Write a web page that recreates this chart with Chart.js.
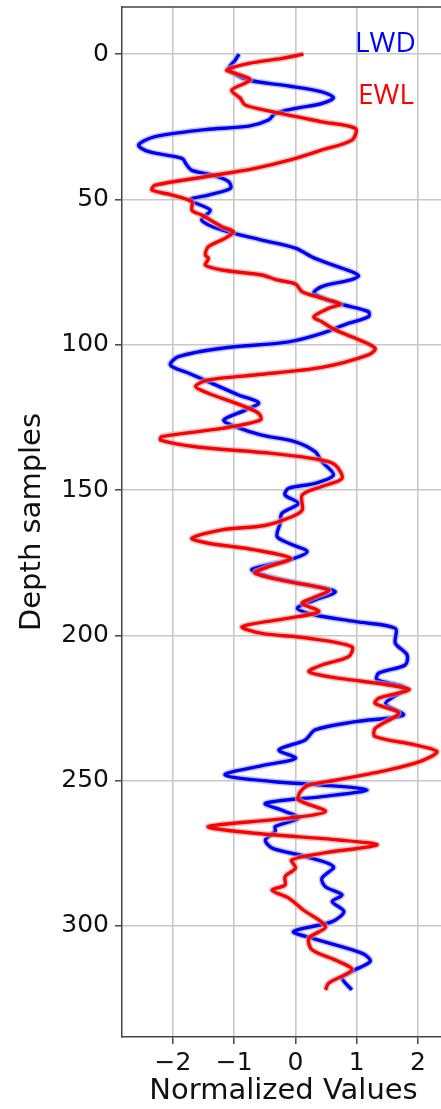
<!DOCTYPE html>
<html>
<head>
<meta charset="utf-8">
<script src="https://cdn.jsdelivr.net/npm/chart.js@4/dist/chart.umd.min.js"></script>
<style>
  html, body { margin: 0; padding: 0; background: #fff; overflow: hidden; }
  #wrap { position: relative; width: 452px; height: 1109px; }
  .tag { position: absolute; font-family: "Open Sans", sans-serif; font-size: 28px; line-height: 1; }
</style>
</head>
<body>
<div id="wrap">
  <canvas id="logChart" width="452" height="1109"></canvas>
  <div class="tag" style="left:355px; top:27px; color:#0000ff;">LWD</div>
  <div class="tag" style="left:358px; top:79px; color:#ff0000;">EWL</div>
</div>
<script>
// LWD log (blue)
const lwdDepth = [0, 2, 5, 6.6, 9, 11, 13, 15, 17, 18.7, 20.4, 22.7, 24.8, 26, 28.4, 31.3, 33.6, 35.9, 38, 40,
  41.6, 43.9, 46.2, 48.5, 50.2, 53.7, 57.1, 60.5, 64, 66.8, 70.3, 74.9, 76.3, 77.7, 80, 82.3, 85.8, 88.6, 90.4, 92.6,
  96.1, 99, 101.2, 104.1, 107, 109.8, 113.3, 117.3, 120, 122.5, 125.9, 128.2, 131.1, 133.4, 136.8, 140.2, 144.8, 147.7, 149.4, 151.7,
  154.6, 158, 161.4, 166, 168.3, 171.2, 174.1, 177.3, 179.8, 183.2, 185, 187.8, 190.7, 193, 195.3, 197.6, 202.7, 206.7, 210.2, 213,
  215.3, 218.2, 223.4, 227.4, 229.7, 232.5, 236, 239.4, 242.3, 244.6, 248, 250.3, 251.5, 253.2, 255.5, 257.8, 260.6, 262.9, 265.8, 267.5,
  270.4, 273.2, 276.1, 279.6, 283.6, 286.5, 289.3, 291.6, 295, 298.5, 301.9, 304.2, 309.4, 312.2, 315.6, 317.8, 322];
const lwdValue = [-0.92, -0.98, -1.09, -1.01, -0.76, -0.11, 0.43, 0.62, 0.43, 0.0, -0.33, -0.44, -0.76, -1.47, -2.29, -2.56, -2.39, -1.85, -1.78, -1.69,
  -1.36, -1.09, -1.06, -1.42, -1.72, -1.39, -1.53, -1.20, -0.55, 0.0, 0.32, 0.92, 1.03, 0.9, 0.43, 0.30, 0.70, 1.19, 1.19, 0.87,
  0.43, -0.11, -1.20, -1.91, -2.04, -1.74, -1.36, -0.93, -0.60, -0.82, -1.17, -0.98, -0.55, 0.0, 0.32, 0.43, 0.62, 0.32, -0.11, -0.17,
  0.05, -0.22, -0.25, -0.30, -0.11, 0.19, -0.11, -0.71, -0.44, 0.32, 0.65, 0.32, 0.03, 0.32, 0.98, 1.63, 1.63, 1.82, 1.79, 1.36,
  1.33, 1.79, 1.47, 1.76, 0.98, 0.32, 0.16, -0.27, 0.0, -0.49, -1.15, -0.38, 0.43, 1.17, 0.43, -0.49, -0.17, 0.05, -0.33, -0.33,
  -0.49, -0.38, 0.16, 0.62, 0.43, 0.49, 0.76, 0.60, 0.79, 0.60, -0.03, 0.27, 1.09, 1.22, 0.92, 0.76, 0.92];

// EWL log (red)
const ewlDepth = [0, 1.5, 3.2, 5.5, 6.6, 8.9, 12.4, 15.2, 17.5, 19.8, 23.3, 25.6, 29.6, 33, 36.5, 39.3, 42.2, 45.1, 46.8, 48.5,
  50.8, 53.7, 55.4, 59.4, 61.1, 63.4, 66.3, 69.1, 70.3, 72.6, 74.3, 76, 77.7, 79.1, 81.8, 84, 86, 87.5, 90.4, 92.1,
  94.9, 97.8, 101.2, 103.5, 107.8, 110.4, 112.1, 114.4, 116.7, 120.7, 123.6, 125.9, 128.8, 131.6, 132.8, 135.1, 137.4, 139.7, 141.4, 146,
  148.8, 151.7, 156.9, 159.2, 162.2, 163.7, 166.6, 168.3, 170.6, 173.5, 176.4, 178.6, 181.5, 184.4, 187.2, 189, 191.8, 194.1, 197, 199.3,
  201, 203.9, 207.3, 210.2, 212.5, 214.2, 218.5, 221.6, 223.4, 226.8, 232, 234.8, 237.7, 240, 243.2, 246.3, 249.7, 251.5, 253.8, 256.6,
  260.6, 262.9, 265.8, 268.1, 270.4, 272.1, 275, 277.3, 280.1, 283, 285.9, 287.7, 290.4, 294.5, 300.2, 304.2, 308.2, 311.7, 315.1, 319.7, 322];
const ewlValue = [0.13, -0.22, -0.76, -1.12, -0.98, -0.74, -1.04, -0.90, -0.82, -0.38, 0.43, 0.98, 0.92, 0.43, -0.10, -0.66, -1.47, -2.29, -2.34, -2.01,
  -1.69, -1.69, -1.53, -1.20, -1.01, -1.15, -1.42, -1.47, -1.42, -1.47, -1.20, -0.55, -0.30, 0.0, 0.11, 0.43, 0.73, 0.54, 0.30, 0.43,
  0.65, 0.98, 1.30, 1.19, 0.43, -0.66, -1.42, -1.63, -1.42, -0.90, -0.60, -0.57, -1.20, -2.18, -2.20, -1.63, -0.38, 0.43, 0.65, 0.76,
  0.43, 0.11, 0.11, -0.06, -0.50, -1.20, -1.69, -1.42, -0.66, -0.08, -0.44, -0.66, -0.11, 0.54, 0.27, 0.11, 0.38, -0.11, -0.87, -0.55,
  0.22, 0.92, 0.87, 0.43, 0.22, 0.54, 1.85, 1.36, 1.30, 1.68, 1.30, 1.30, 1.95, 2.31, 2.06, 1.52, 0.70, 0.22, 0.08, 0.05,
  0.49, -0.11, -1.42, -0.66, 0.70, 1.33, 0.43, -0.06, 0.0, -0.17, -0.17, -0.38, -0.11, 0.13, 0.49, 0.22, 0.27, 0.65, 0.92, 0.54, 0.49];

const xTicks = [-2, -1, 0, 1, 2];
const yTicks = [0, 50, 100, 150, 200, 250, 300];

const toPoints = (depth, vals) => depth.map((d, i) => ({ x: vals[i], y: d }));
const lwdPts = toPoints(lwdDepth, lwdValue);
const ewlPts = toPoints(ewlDepth, ewlValue);

const spine = '#444';
const gridCol = 'rgb(200,200,200)';
const tickFont = { family: 'DejaVu Sans', size: 25 };

// draws the top/right frame like matplotlib's spines
const frame = {
  id: 'frame',
  afterDraw(chart) {
    const { ctx, chartArea: a } = chart;
    ctx.save();
    ctx.strokeStyle = spine;
    ctx.lineWidth = 1.5;
    ctx.beginPath();
    ctx.moveTo(a.left, a.top);
    ctx.lineTo(a.right, a.top);
    ctx.lineTo(a.right, a.bottom);
    ctx.stroke();
    ctx.restore();
  }
};

const line = (data, color, width, order) => ({
  data, borderColor: color, borderWidth: width, order,
  showLine: true, pointRadius: 0, tension: 0.3, fill: false
});

new Chart(document.getElementById('logChart'), {
  type: 'scatter',
  data: {
    datasets: [
      line(lwdPts, 'rgba(170,170,200,0.6)', 6.5, 4),
      line(lwdPts, '#0000ff', 3.4, 3),
      line(ewlPts, 'rgba(200,170,170,0.6)', 6.5, 2),
      line(ewlPts, '#ff0000', 3.4, 1)
    ]
  },
  options: {
    responsive: false,
    devicePixelRatio: 1,
    animation: false,
    layout: { padding: { top: 7, right: 7, bottom: 0, left: 0 } },
    plugins: { legend: { display: false }, tooltip: { enabled: false } },
    scales: {
      x: {
        type: 'linear',
        min: -2.83,
        max: 2.44,
        afterBuildTicks: s => { s.ticks = xTicks.map(v => ({ value: v })); },
        afterFit: s => { s.height = 72; s.paddingLeft = 0; s.paddingRight = 0; },
        ticks: {
          font: tickFont, color: '#111', padding: 4,
          callback: v => String(v).replace('-', '\u2212')
        },
        grid: { color: gridCol, lineWidth: 1.6, tickColor: spine, tickLength: 7, tickWidth: 1.5 },
        border: { color: spine, width: 1.5 },
        title: {
          display: true, text: 'Normalized Values', color: '#111',
          font: { family: 'DejaVu Sans', size: 29, lineHeight: 1.2 },
          padding: { top: 0, bottom: 0 }
        }
      },
      y: {
        type: 'linear',
        reverse: true,
        min: -16.2,
        max: 338.2,
        afterBuildTicks: s => { s.ticks = yTicks.map(v => ({ value: v })); },
        afterFit: s => { s.width = 122; s.paddingTop = 0; s.paddingBottom = 0; },
        ticks: { font: tickFont, color: '#111', padding: 6 },
        grid: { color: gridCol, lineWidth: 1.6, tickColor: spine, tickLength: 7, tickWidth: 1.5 },
        border: { color: spine, width: 1.5 },
        title: {
          display: true, text: 'Depth samples', color: '#111',
          font: { family: 'DejaVu Sans', size: 29, lineHeight: 1.2 },
          padding: { top: 15, bottom: 0 }
        }
      }
    }
  },
  plugins: [frame]
});
</script>
</body>
</html>
